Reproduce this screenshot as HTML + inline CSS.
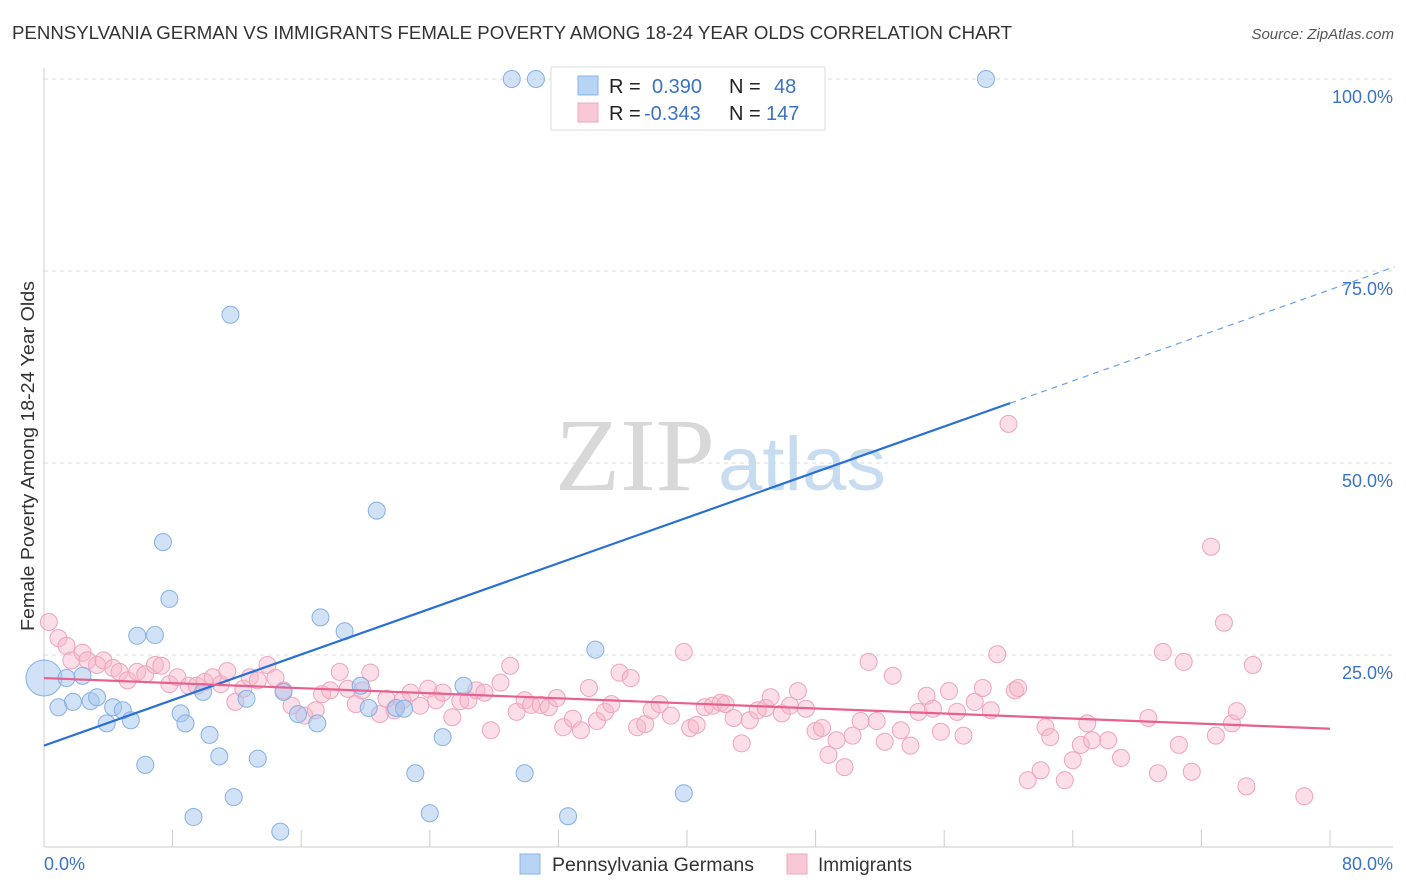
<!DOCTYPE html>
<html><head><meta charset="utf-8"><style>
body{margin:0;background:#fff;font-family:"Liberation Sans",sans-serif;}
svg{display:block}
</style></head><body>
<svg id="chart" width="1406" height="892">
<text x="12" y="39" font-size="18.5" fill="#333" textLength="1000" lengthAdjust="spacingAndGlyphs">PENNSYLVANIA GERMAN VS IMMIGRANTS FEMALE POVERTY AMONG 18-24 YEAR OLDS CORRELATION CHART</text>
<text x="1394" y="39" font-size="15" fill="#555" text-anchor="end" font-style="italic">Source: ZipAtlas.com</text>
<text transform="translate(34,456) rotate(-90)" font-size="18" fill="#333" text-anchor="middle" textLength="350" lengthAdjust="spacingAndGlyphs">Female Poverty Among 18-24 Year Olds</text>
<g id="grid"></g>
<text x="555" y="490" font-size="104" fill="#d8d8d8" font-family="Liberation Serif" textLength="160" lengthAdjust="spacingAndGlyphs">ZIP</text>
<text x="718" y="490" font-size="76" fill="#c8dcf0" textLength="168" lengthAdjust="spacingAndGlyphs">atlas</text>
<g id="pts"></g>
<g id="lines"></g>
<g>
<rect x="551" y="67" width="274" height="63" fill="#fff" stroke="#ddd"/>
<rect x="578" y="76" width="20" height="19" fill="#b8d4f4" stroke="#8ab4e8"/>
<rect x="578" y="103" width="20" height="19" fill="#f8c8d6" stroke="#f0a8bc"/>
<text x="609" y="93" font-size="20" fill="#222">R =</text><text x="652" y="93" font-size="20" fill="#3a72c8">0.390</text>
<text x="729" y="93" font-size="20" fill="#222">N =</text><text x="774" y="93" font-size="20" fill="#3a72c8">48</text>
<text x="609" y="120" font-size="20" fill="#222">R =</text><text x="644" y="120" font-size="20" fill="#3a72c8">-0.343</text>
<text x="729" y="120" font-size="20" fill="#222">N =</text><text x="766" y="120" font-size="20" fill="#3a72c8">147</text>
</g>
<g>
<rect x="520" y="854" width="20" height="20" fill="#b8d4f4" stroke="#8ab4e8"/>
<text x="552" y="871" font-size="19" fill="#333" textLength="202" lengthAdjust="spacingAndGlyphs">Pennsylvania Germans</text>
<rect x="787" y="854" width="20" height="20" fill="#f8c8d6" stroke="#f0a8bc"/>
<text x="818" y="871" font-size="19" fill="#333">Immigrants</text>
</g>
<text x="44" y="870" font-size="18" fill="#3a72c8">0.0%</text>
<text x="1393" y="870" font-size="18" fill="#3a72c8" text-anchor="end">80.0%</text>
</svg>
<script>
const yTicks=[100,75,50,25];
const yTickLabels=["100.0%","75.0%","50.0%","25.0%"];
const blueX=[0,0.9,1.4,1.8,2.4,2.9,3.3,3.9,4.3,4.9,5.4,5.8,6.3,6.9,7.4,7.8,8.5,8.8,9.3,9.9,10.3,10.9,11.6,11.8,12.6,13.3,14.7,14.9,15.8,17.0,17.2,18.7,19.7,20.2,20.7,21.9,22.4,23.1,24.0,24.8,26.1,29.1,30.6,29.9,32.6,34.3,39.8,58.6];
const blueY=[22.0,18.2,22.0,18.9,22.3,19.0,19.5,16.1,18.2,17.8,16.5,27.5,10.7,27.6,39.7,32.3,17.4,16.1,3.9,20.2,14.6,11.8,69.3,6.5,19.3,11.5,2.0,20.2,17.3,16.1,29.9,28.1,21.0,18.1,43.8,18.1,18.0,9.6,4.4,14.3,21.0,100,100,9.6,4.0,25.7,7.0,100];
const pinkX=[0.3,0.9,1.4,1.7,2.4,2.7,3.3,3.7,4.3,4.7,5.2,5.8,6.3,6.9,7.3,7.8,8.3,9.0,9.5,10.0,10.5,11.0,11.4,11.9,12.4,12.8,13.3,13.9,14.4,14.9,15.4,16.2,16.9,17.3,17.8,18.4,18.9,19.4,19.8,20.3,20.9,21.3,21.8,22.3,22.8,23.4,23.9,24.4,24.8,25.4,25.9,26.4,26.9,27.4,27.8,28.4,29.0,29.4,29.9,30.3,30.9,31.4,31.9,32.3,32.9,33.4,33.9,34.4,34.9,35.3,35.8,36.5,36.9,37.4,37.8,38.3,39.0,39.8,40.2,40.6,41.1,41.6,42.1,42.4,42.9,43.4,43.9,44.4,44.9,45.2,45.9,46.4,46.9,47.4,48.0,48.4,48.8,49.3,49.8,50.3,50.8,51.3,51.8,52.3,52.8,53.3,53.9,54.4,54.9,55.3,55.8,56.3,56.8,57.2,57.9,58.4,58.9,59.3,60.0,60.4,60.6,61.2,62.0,62.3,62.6,63.5,64.0,64.5,64.9,65.2,66.2,67.0,68.7,69.3,69.6,70.6,70.9,71.4,72.6,72.9,73.4,73.9,74.2,74.8,75.2,78.4];
const pinkY=[29.3,27.2,26.2,24.3,25.3,24.3,23.7,24.3,23.3,22.8,21.7,22.8,22.5,23.7,23.6,21.2,22.1,21.0,21.0,21.5,22.1,21.2,22.9,18.9,20.6,22.1,21.7,23.7,22.0,20.4,18.4,17.1,17.8,19.9,20.4,22.8,20.6,18.6,20.4,22.7,17.3,19.3,17.8,19.1,20.1,18.4,20.6,19.1,20.1,16.9,19.0,19.1,20.4,20.1,15.2,21.4,23.6,17.6,19.1,18.5,18.5,18.2,19.4,15.6,16.7,15.2,20.7,16.4,17.6,18.6,22.7,22.0,15.6,16.0,17.8,18.6,17.1,25.4,15.5,15.9,18.2,18.4,18.8,18.6,16.8,13.5,16.5,17.8,18.1,19.5,17.4,18.4,20.3,18.0,15.1,15.5,12.0,13.9,10.4,14.5,16.4,24.1,16.4,13.7,22.3,15.2,13.2,17.6,19.7,18.0,15.0,20.3,17.6,14.5,18.9,20.7,17.8,25.1,55.1,20.4,20.7,8.7,10.0,15.6,14.3,8.7,11.3,13.3,16.1,13.9,13.9,11.6,16.8,9.6,25.4,13.3,24.1,9.8,39.1,14.5,29.2,16.1,17.7,7.9,23.7,6.6];
const blueTrend=[13.2,0.742];
const pinkTrend=[22.0,-0.0825];
const X=v=>44+v*16.075, Y=v=>847-v*7.68;
const NS="http://www.w3.org/2000/svg";
function mk(t,a,p){const e=document.createElementNS(NS,t);for(const k in a)e.setAttribute(k,a[k]);p.appendChild(e);return e;}
const grid=document.getElementById('grid');
const ax=mk('line',{x1:44,y1:68,x2:44,y2:847,stroke:'#ccc'},grid);


const xl=mk('line',{x1:44,y1:847,x2:1393,y2:847,stroke:'#ccc'},grid);


yTicks.forEach((t,i)=>{
 const g=mk('line',{x1:44,y1:Y(t),x2:1393,y2:Y(t),stroke:'#ddd','stroke-dasharray':'4,4'},grid);
 
 
 const l=mk('text',{x:1393,y:Y(t)+24,'font-size':18,fill:'#3a72c8','text-anchor':'end'},grid);
 l.textContent=yTickLabels[i];
 
 
});
for(let i=0;i<=10;i++){
 const tk=mk('line',{x1:X(i*8),y1:830,x2:X(i*8),y2:847,stroke:'#ccc'},grid);
 
 
}
const pts=document.getElementById('pts');
pinkX.forEach((x,i)=>{
 const c=mk('circle',{cx:X(x),cy:Y(pinkY[i]),r:8.5,fill:'rgba(246,182,202,0.45)',stroke:'#f0a4bc','stroke-width':1},pts);
 
 
});
blueX.forEach((x,i)=>{
 const c=mk('circle',{cx:X(x),cy:Y(blueY[i]),r:i===0?18:8.5,fill:'rgba(164,198,240,0.5)',stroke:'#86b0e6','stroke-width':1},pts);
 
 
});
const ln=document.getElementById('lines');
const bl=mk('line',{x1:X(0),y1:Y(blueTrend[0]),x2:X(60.1),y2:Y(blueTrend[0]+blueTrend[1]*60.1),stroke:'#2a6fd6','stroke-width':2.2},ln);


const bd=mk('line',{x1:X(60.1),y1:Y(blueTrend[0]+blueTrend[1]*60.1),x2:X(84),y2:Y(blueTrend[0]+blueTrend[1]*84),stroke:'#6a9ee6','stroke-width':1.2,'stroke-dasharray':'6,5'},ln);


const pl=mk('line',{x1:X(0),y1:Y(pinkTrend[0]),x2:X(80),y2:Y(pinkTrend[0]+pinkTrend[1]*80),stroke:'#e8608e','stroke-width':2.2},ln);


</script>
</body></html>
